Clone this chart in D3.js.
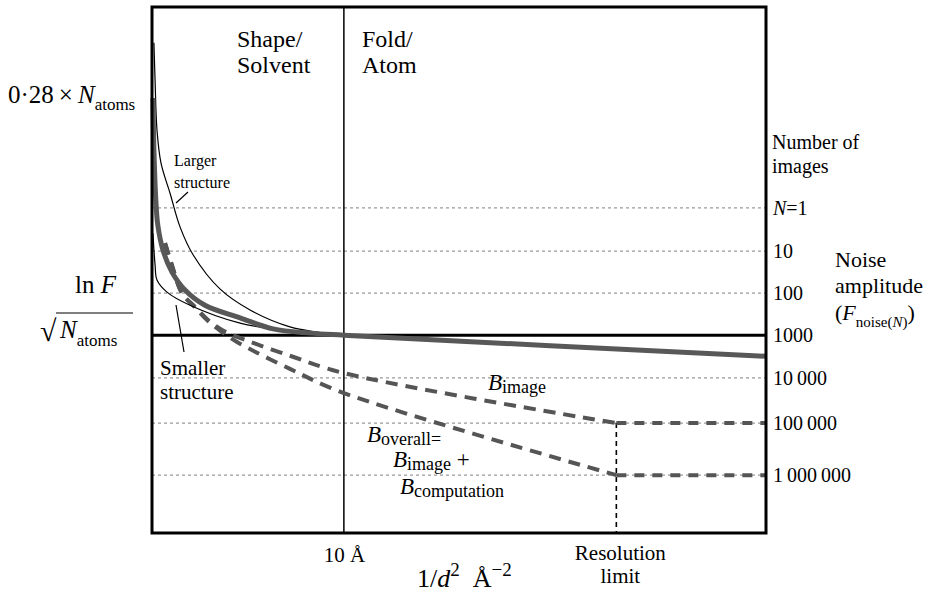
<!DOCTYPE html>
<html>
<head>
<meta charset="utf-8">
<script src="https://cdn.jsdelivr.net/npm/d3@7"></script>
<style>
body { margin: 0; background: #fff; }
svg text { font-family: "Liberation Serif", "Times New Roman", serif; fill: #000; }
</style>
</head>
<body>
<div id="chart"></div>
<script>
// noise levels (number of images) on the ln F / sqrt(N_atoms) axis
const noiseLabels = ["N=1", "10", "100", "1000", "10\u2009000", "100\u2009000", "1\u2009000\u2009000"];
const noiseLevels = [61.8, 53.6, 45.6, 37.6, 29.5, 20.9, 11.0];
const topLevel = 83.3;   // 0.28 x N_atoms

// positions on the 1/d^2 axis
const tenAngstrom = 0.01;
const resLimit = 0.0242;

// curves: [1/d^2, ln F / sqrt(N_atoms)]
const average = [[0.00005, 82.7], [0.0001, 72.8], [0.0002, 63.3], [0.0003, 58.6], [0.00057, 53.8],
    [0.00104, 49.6], [0.00172, 46.2], [0.00276, 43.3], [0.00459, 40.9], [0.00631, 38.8],
    [0.00824, 38.0], [0.0100, 37.6], [0.032, 33.6]];
const larger = [[0.0001, 93.2], [0.00016, 86.1], [0.00026, 76.6], [0.00047, 70.3], [0.00094, 64.6],
    [0.00146, 58.2], [0.00214, 52.9], [0.00354, 46.4], [0.00511, 42.4], [0.00719, 39.2],
    [0.0100, 37.6]];
const smaller = [[0.00005, 57.0], [0.00016, 51.0], [0.00026, 48.1], [0.00078, 45.8], [0.00198, 43.3],
    [0.00459, 39.9], [0.00719, 38.4], [0.0100, 37.6]];
const bImage = [[0.00068, 55.1], [0.00104, 50.9], [0.00156, 45.6], [0.00224, 43.0], [0.00292, 40.5],
    [0.00365, 38.6], [0.00443, 37.3], [0.00719, 33.7], [0.0100, 30.4], [0.0242, 20.9]];
const bOverall = [[0.00068, 55.1], [0.00104, 50.9], [0.00156, 45.6], [0.00224, 42.9], [0.00292, 40.3],
    [0.00365, 38.2], [0.00443, 36.3], [0.00719, 31.2], [0.0100, 26.6], [0.0242, 11.0]];
const bImageTail = [[0.0242, 20.9], [0.032, 20.9]];
const bOverallTail = [[0.0242, 11.0], [0.032, 11.0]];

const margin = { top: 7, right: 160, bottom: 60, left: 152 },
    width = 926 - margin.left - margin.right,
    height = 593 - margin.top - margin.bottom;

const svg = d3.select("#chart")
    .append("svg")
    .attr("width", 926)
    .attr("height", 593);

const g = svg.append("g")
    .attr("transform", "translate(" + margin.left + "," + margin.top + ")");

const x = d3.scaleLinear().domain([0, 0.032]).range([0, width]);
const y = d3.scaleLinear().domain([0, 100]).range([height, 0]);

// text with italic / sub / superscript parts
function richText(parent, px, py, parts, size, subShift) {
    const t = parent.append("text")
        .attr("x", px).attr("y", py)
        .style("font-size", size + "px");
    let shift = 0;
    parts.forEach(function(p) {
        const target = p.sub ? (subShift != null ? subShift : size * 0.3) : (p.sup ? -size * 0.42 : 0);
        const s = t.append("tspan").text(p.t).attr("dy", target - shift);
        shift = target;
        if (p.it) s.style("font-style", "italic");
        if (p.sub || p.sup) s.style("font-size", (p.size || size * 0.72) + "px");
    });
    return t;
}

// dotted noise levels
g.append("g")
    .selectAll("line")
    .data(noiseLevels.filter((d, i) => i !== 3))
    .enter()
    .append("line")
    .attr("x1", 0).attr("x2", width)
    .attr("y1", d => y(d)).attr("y2", d => y(d))
    .attr("stroke", "#9a9a9a")
    .attr("stroke-width", 1.3)
    .attr("stroke-dasharray", "3,3");

// level of 1000 images
g.append("line")
    .attr("x1", 0).attr("x2", width)
    .attr("y1", y(noiseLevels[3])).attr("y2", y(noiseLevels[3]))
    .attr("stroke", "#000").attr("stroke-width", 3);

// 10 A divider
g.append("line")
    .attr("x1", x(tenAngstrom)).attr("x2", x(tenAngstrom))
    .attr("y1", 0).attr("y2", height)
    .attr("stroke", "#000").attr("stroke-width", 1.5);

// resolution limit
g.append("line")
    .attr("x1", x(resLimit)).attr("x2", x(resLimit))
    .attr("y1", y(noiseLevels[5])).attr("y2", height)
    .attr("stroke", "#000").attr("stroke-width", 1.6)
    .attr("stroke-dasharray", "5,4");

const curve = d3.line()
    .x(d => x(d[0]))
    .y(d => y(d[1]))
    .curve(d3.curveCatmullRom.alpha(0.5));
const straight = d3.line()
    .x(d => x(d[0]))
    .y(d => y(d[1]));

// B lines
[bImage, bOverall].forEach(function(d) {
    g.append("path").datum(d)
        .attr("d", curve)
        .attr("fill", "none")
        .attr("stroke", "#555")
        .attr("stroke-width", 4)
        .attr("stroke-dasharray", "12,8");
});
[bImageTail, bOverallTail].forEach(function(d) {
    g.append("path").datum(d)
        .attr("d", straight)
        .attr("fill", "none")
        .attr("stroke", "#555")
        .attr("stroke-width", 4)
        .attr("stroke-dasharray", "10,8");
});

// larger / smaller structure
[larger, smaller].forEach(function(d) {
    g.append("path").datum(d)
        .attr("d", curve)
        .attr("fill", "none")
        .attr("stroke", "#000")
        .attr("stroke-width", 1.2);
});

// average structure
g.append("path").datum(average)
    .attr("d", curve)
    .attr("fill", "none")
    .attr("stroke", "#585858")
    .attr("stroke-width", 5);

// frame
g.append("rect")
    .attr("width", width).attr("height", height)
    .attr("fill", "none")
    .attr("stroke", "#000")
    .attr("stroke-width", 3);

// right axis: number of images
const yAxis = g.append("g")
    .attr("transform", "translate(" + width + ",0)")
    .call(d3.axisRight(y).tickValues(noiseLevels).tickSize(0).tickPadding(7)
        .tickFormat((d, i) => noiseLabels[i]));
yAxis.select(".domain").remove();
yAxis.selectAll("text")
    .attr("font-family", null)
    .style("font-size", "20px");
yAxis.select(".tick text").text(null).call(function(t) {
    t.append("tspan").style("font-style", "italic").text("N");
    t.append("tspan").text("=1");
});

// bottom axis
const xAxis = g.append("g")
    .attr("transform", "translate(0," + height + ")")
    .call(d3.axisBottom(x).tickValues([tenAngstrom]).tickSize(0).tickPadding(14)
        .tickFormat(() => "10 Å"));
xAxis.select(".domain").remove();
xAxis.selectAll("text").attr("font-family", null).style("font-size", "21px");

g.append("text").attr("x", x(resLimit) + 4).attr("y", height + 27)
    .attr("text-anchor", "middle").style("font-size", "21px").text("Resolution");
g.append("text").attr("x", x(resLimit) + 4).attr("y", height + 50)
    .attr("text-anchor", "middle").style("font-size", "21px").text("limit");

richText(svg, 417, 587, [{ t: "1/" }, { t: "d", it: true }, { t: "2", sup: true, size: 19 },
    { t: "\u2002Å" }, { t: "\u22122", sup: true, size: 19 }], 26);

// top labels
svg.append("text").attr("x", 237).attr("y", 47).style("font-size", "24px").text("Shape/");
svg.append("text").attr("x", 237).attr("y", 73).style("font-size", "24px").text("Solvent");
svg.append("text").attr("x", 362).attr("y", 47).style("font-size", "24px").text("Fold/");
svg.append("text").attr("x", 362).attr("y", 73).style("font-size", "24px").text("Atom");

// left labels
richText(svg, 8, margin.top + y(topLevel) + 8, [{ t: "0·28\u2009×\u2009" }, { t: "N", it: true }, { t: "atoms", sub: true, size: 17 }], 25);
richText(svg, 75, 293, [{ t: "ln " }, { t: "F", it: true }], 25);
svg.append("text").attr("x", 40).attr("y", 341).style("font-size", "30px").text("√");
svg.append("line").attr("x1", 56).attr("x2", 133).attr("y1", 313).attr("y2", 313)
    .attr("stroke", "#000").attr("stroke-width", 1.2);
richText(svg, 60, 338, [{ t: "N", it: true }, { t: "atoms", sub: true, size: 17 }], 25);

// right labels
svg.append("text").attr("x", 772).attr("y", 149).style("font-size", "20px").text("Number of");
svg.append("text").attr("x", 772).attr("y", 173).style("font-size", "20px").text("images");
svg.append("text").attr("x", 835).attr("y", 267).style("font-size", "22px").text("Noise");
svg.append("text").attr("x", 835).attr("y", 293).style("font-size", "22px").text("amplitude");
richText(svg, 835, 320, [{ t: "(" }, { t: "F", it: true }, { t: "noise(", sub: true, size: 15 },
    { t: "N", sub: true, it: true, size: 15 }, { t: ")", sub: true, size: 15 }, { t: ")" }], 22);

// structure labels
svg.append("text").attr("x", 174).attr("y", 166).style("font-size", "16px").text("Larger");
svg.append("text").attr("x", 174).attr("y", 188).style("font-size", "16px").text("structure");
svg.append("line").attr("x1", 188).attr("y1", 192).attr("x2", 176).attr("y2", 203)
    .attr("stroke", "#000").attr("stroke-width", 1.2);
svg.append("text").attr("x", 160).attr("y", 375).style("font-size", "21px").text("Smaller");
svg.append("text").attr("x", 160).attr("y", 399).style("font-size", "21px").text("structure");
svg.append("line").attr("x1", 176).attr("y1", 305).attr("x2", 184).attr("y2", 352)
    .attr("stroke", "#000").attr("stroke-width", 1.2);

// B labels
richText(svg, 488, 390, [{ t: "B", it: true }, { t: "image", sub: true, size: 18 }], 23, 3);
richText(svg, 367, 442, [{ t: "B", it: true }, { t: "overall=", sub: true, size: 18 }], 23, 3);
richText(svg, 393, 467, [{ t: "B", it: true }, { t: "image", sub: true, size: 18 }, { t: " +" }], 23, 3);
richText(svg, 400, 494, [{ t: "B", it: true }, { t: "computation", sub: true, size: 18 }], 23, 3);
</script>
</body>
</html>
